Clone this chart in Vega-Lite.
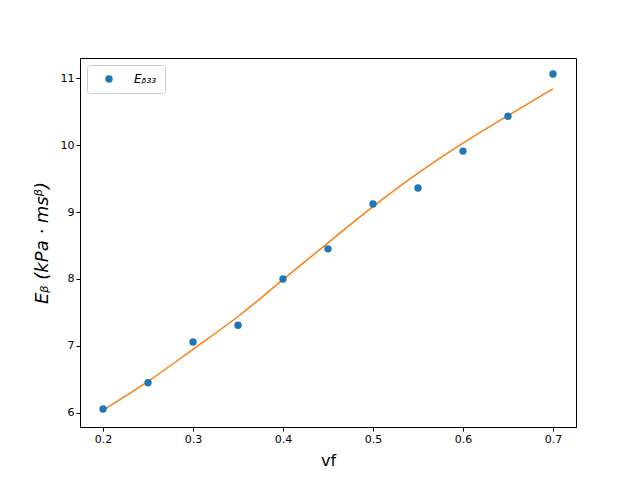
{
  "$schema": "https://vega.github.io/schema/vega-lite/v6.json",
  "width": 496,
  "height": 369,
  "autosize": {"type": "none"},
  "padding": {"left": 80, "top": 58, "right": 64, "bottom": 53},
  "background": "white",
  "config": {
    "view": {"stroke": "black", "strokeWidth": 1},
    "font": "DejaVu Sans",
    "axis": {
      "grid": false,
      "domainColor": "black",
      "tickColor": "black",
      "tickSize": 4,
      "labelFontSize": 11,
      "labelColor": "black",
      "labelFont": "DejaVu Sans",
      "titleFont": "DejaVu Sans",
      "titleFontSize": 16,
      "titleFontWeight": "normal",
      "titleColor": "black"
    }
  },
  "datasets": {
    "pts": [
      {"vf": 0.2, "E": 6.06, "series": "Eᵦ₃₃"},
      {"vf": 0.25, "E": 6.45, "series": "Eᵦ₃₃"},
      {"vf": 0.3, "E": 7.06, "series": "Eᵦ₃₃"},
      {"vf": 0.35, "E": 7.31, "series": "Eᵦ₃₃"},
      {"vf": 0.4, "E": 8.0, "series": "Eᵦ₃₃"},
      {"vf": 0.45, "E": 8.45, "series": "Eᵦ₃₃"},
      {"vf": 0.5, "E": 9.12, "series": "Eᵦ₃₃"},
      {"vf": 0.55, "E": 9.36, "series": "Eᵦ₃₃"},
      {"vf": 0.6, "E": 9.91, "series": "Eᵦ₃₃"},
      {"vf": 0.65, "E": 10.43, "series": "Eᵦ₃₃"},
      {"vf": 0.7, "E": 11.06, "series": "Eᵦ₃₃"}
    ],
    "fit": [
      {"vf": 0.2, "E": 6.04},
      {"vf": 0.25, "E": 6.47},
      {"vf": 0.3, "E": 6.95},
      {"vf": 0.35, "E": 7.44},
      {"vf": 0.4, "E": 7.99},
      {"vf": 0.45, "E": 8.54},
      {"vf": 0.5, "E": 9.08},
      {"vf": 0.55, "E": 9.58},
      {"vf": 0.6, "E": 10.03},
      {"vf": 0.65, "E": 10.44},
      {"vf": 0.7, "E": 10.84}
    ]
  },
  "layer": [
    {
      "data": {"name": "fit"},
      "mark": {"type": "line", "color": "#ff7f0e", "strokeWidth": 1.5, "interpolate": "monotone"},
      "encoding": {
        "x": {"field": "vf", "type": "quantitative"},
        "y": {"field": "E", "type": "quantitative"}
      }
    },
    {
      "data": {"name": "pts"},
      "mark": {"type": "point", "filled": true, "opacity": 1, "size": 55, "shape": "circle"},
      "encoding": {
        "x": {
          "field": "vf", "type": "quantitative",
          "scale": {"domain": [0.1744, 0.7256], "nice": false, "zero": false},
          "axis": {"values": [0.2, 0.3, 0.4, 0.5, 0.6, 0.7], "format": ".1f", "title": "vf", "titlePadding": 8}
        },
        "y": {
          "field": "E", "type": "quantitative",
          "scale": {"domain": [5.79, 11.3], "nice": false, "zero": false},
          "axis": {"values": [6, 7, 8, 9, 10, 11], "format": "d", "title": "Eᵦ (kPa · msᵝ)", "titleFontStyle": "italic", "titleFontSize": 18, "titlePadding": 9}
        },
        "color": {
          "field": "series", "type": "nominal",
          "scale": {"domain": ["Eᵦ₃₃"], "range": ["#1f77b4"]},
          "legend": {
            "title": null,
            "orient": "none",
            "legendX": 7,
            "legendY": 7,
            "strokeColor": "#cccccc",
            "fillColor": "white",
            "cornerRadius": 3,
            "padding": 8,
            "symbolOffset": 8,
            "labelFontSize": 12,
            "labelFontStyle": "italic",
            "labelColor": "black",
            "symbolSize": 55,
            "labelOffset": 19
          }
        }
      }
    }
  ]
}
